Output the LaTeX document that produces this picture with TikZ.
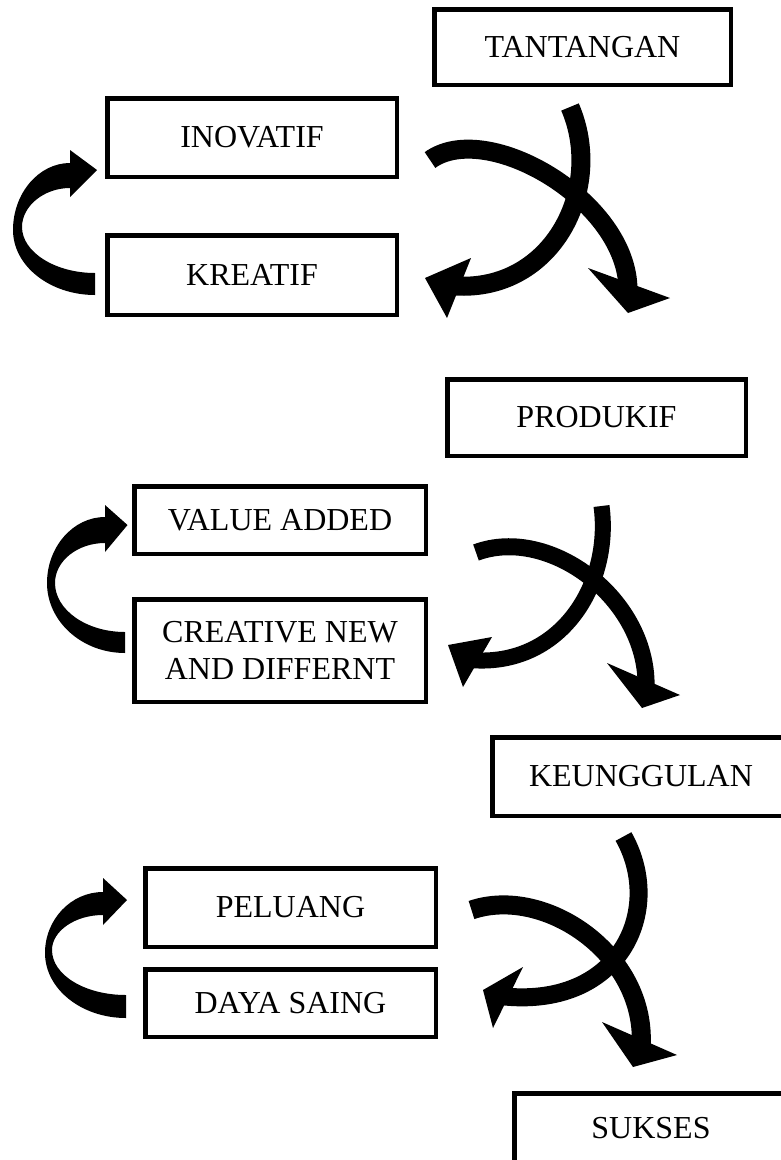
\documentclass[tikz,border=0pt]{standalone}
\usepackage{fontspec}
\setmainfont{Liberation Serif}

\begin{document}
\begin{tikzpicture}[
    x=1pt, y=-1pt,
    kotak/.style={rectangle, draw, line width=4.5pt, inner sep=0pt, align=center, font=\fontsize{32}{37}\selectfont},
    pita/.style={line width=#1, line cap=butt},
    mata/.style={fill=black}
]
    \useasboundingbox (0,0) rectangle (781,1160);
    \clip (0,0) rectangle (781,1160);

    % Group 1: boxes
    \node[kotak, minimum width=296.5pt, minimum height=75.5pt] (tantangan) at (582.5,47) {TANTANGAN};
    \node[kotak, minimum width=289.5pt, minimum height=78.5pt] (inovatif) at (252,137.5) {INOVATIF};
    \node[kotak, minimum width=289.5pt, minimum height=79.5pt] (kreatif) at (252,275) {KREATIF};

    % Group 1: loop arrow
    \fill (95,295) .. controls (50,295) and (13,266) .. (13,230)
        .. controls (13,193) and (39,163) .. (70,163)
        -- (70,150) -- (97,170) -- (70,197) -- (70,188)
        .. controls (44,188) and (22,206) .. (22,227)
        .. controls (22,252) and (55,273) .. (95,273) -- cycle;

    % Group 1: crossed arrows
    \draw[pita=19pt] (570,107) .. controls (605,188) and (553,292) .. (455,286);
    \fill[mata] (471,258) -- (425,278) -- (447,318) -- cycle;
    \draw[pita=19pt] (430,160) .. controls (487,119) and (628,201) .. (628,290);
    \fill[mata] (588,268) -- (628,313) -- (670,298) -- cycle;

    % Group 2: boxes
    \node[kotak, minimum width=298.5pt, minimum height=76.5pt] (produkif) at (596.5,417.5) {PRODUKIF};
    \node[kotak, minimum width=291.5pt, minimum height=67.5pt] (valueadded) at (280,520) {VALUE ADDED};
    \node[kotak, minimum width=291.5pt, minimum height=102.5pt] (creative) at (280,650.5) {CREATIVE NEW\\AND DIFFERNT};

    % Group 2: loop arrow
    \fill (125,653) .. controls (82,653) and (47,621.5) .. (47,583)
        .. controls (47,547) and (73,517) .. (105,517)
        -- (105,505) -- (127.5,525) -- (105,552) -- (105,543)
        .. controls (77.5,543) and (55,561) .. (55,583)
        .. controls (55,610) and (86.5,632) .. (125,632) -- cycle;

    % Group 2: crossed arrows
    \draw[pita=16pt] (601.5,506) .. controls (612,585) and (560,668) .. (470,660);
    \fill[mata] (492,637) -- (448,645) -- (463,687) -- cycle;
    \draw[pita=17pt] (476,552.5) .. controls (550,525) and (650,600) .. (646,690);
    \fill[mata] (607,663) -- (642,708) -- (680,695) -- cycle;

    % Group 3: boxes
    \node[kotak, minimum width=297.5pt, minimum height=78.5pt] (keunggulan) at (641,776.5) {KEUNGGULAN};
    \node[kotak, minimum width=290.5pt, minimum height=78.5pt] (peluang) at (290.5,907.5) {PELUANG};
    \node[kotak, minimum width=290.5pt, minimum height=67.5pt] (dayasaing) at (290.5,1003) {DAYA SAING};
    \node[kotak, minimum width=273.5pt, minimum height=69.5pt] (sukses) at (651,1128) {SUKSES};

    % Group 3: loop arrow
    \fill (126,1018) .. controls (81.5,1018) and (45,989) .. (45,953)
        .. controls (45,919.5) and (71,892) .. (103,892)
        -- (103,878) -- (127,900) -- (103,925) -- (103,915)
        .. controls (75,915) and (52,931) .. (52,950)
        .. controls (52,975) and (85,995) .. (126,995) -- cycle;

    % Group 3: crossed arrows
    \draw[pita=18pt] (623.5,836.5) .. controls (665,910) and (620,1010) .. (500,996);
    \fill[mata] (523,967) -- (483,990) -- (493,1028) -- cycle;
    \draw[pita=19pt] (471.5,910) .. controls (545,885) and (648,955) .. (641,1048);
    \fill[mata] (602,1022) -- (633,1067) -- (677,1055) -- cycle;
\end{tikzpicture}
\end{document}
